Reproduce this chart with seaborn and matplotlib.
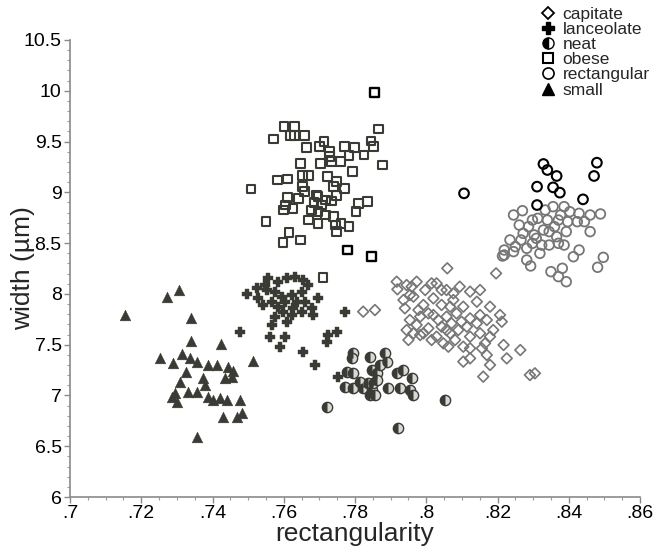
import numpy as np
import matplotlib
matplotlib.use("Agg")
import matplotlib.pyplot as plt
from matplotlib.markers import MarkerStyle
from matplotlib.lines import Line2D
from matplotlib.ticker import FixedLocator, MultipleLocator
import seaborn as sns

# ---------------- data ----------------
capitate_x = [0.8059, 0.8196, 0.7856, 0.7917, 0.7919, 0.7945, 0.7973, 0.8029, 0.8057, 0.8094,
              0.8123, 0.8151, 0.8142, 0.7936, 0.7964, 0.7992, 0.8020, 0.8043, 0.8076, 0.8104,
              0.8179, 0.7940, 0.7954, 0.7983, 0.8020, 0.8057, 0.8085, 0.8123, 0.8151, 0.8170,
              0.8207, 0.8212, 0.7945, 0.7950, 0.7983, 0.8006, 0.8029, 0.8048, 0.8067, 0.8090,
              0.8114, 0.8123, 0.8151, 0.8179, 0.8188, 0.8217, 0.8264, 0.8123, 0.8156, 0.8170,
              0.8104, 0.8123, 0.8179, 0.8226, 0.8160, 0.8291, 0.8305, 0.8062, 0.8043, 0.8067,
              0.7973, 0.7992, 0.7823,
              0.7959, 0.7997, 0.8015, 0.8043, 0.7978, 0.8006, 0.8034, 0.8071, 0.8099, 0.8057,
              0.8081, 0.8104, 0.8015, 0.7964, 0.8142, 0.8165, 0.8076, 0.7954]
capitate_y = [8.252, 8.202, 7.841, 8.120, 8.045, 8.087, 8.120, 8.104, 8.038, 8.071,
              8.022, 8.038, 7.923, 7.940, 7.973, 7.891, 7.956, 7.891, 7.940, 7.874,
              7.874, 7.858, 7.743, 7.776, 7.792, 7.776, 7.808, 7.759, 7.792, 7.743,
              7.792, 7.726, 7.644, 7.546, 7.595, 7.661, 7.579, 7.513, 7.612, 7.644,
              7.677, 7.579, 7.612, 7.579, 7.644, 7.497, 7.447, 7.464, 7.464, 7.398,
              7.333, 7.365, 7.300, 7.365, 7.185, 7.201, 7.218, 7.480, 7.677, 7.874,
              7.694, 7.612, 7.825,
              8.071, 8.038, 8.104, 8.038, 7.841, 7.808, 7.743, 7.710, 7.726, 7.644,
              7.546, 7.480, 7.546, 7.612, 7.710, 7.513, 8.005, 7.989]

lanceolate_x = [0.7496, 0.7529, 0.7557, 0.7585, 0.7608, 0.7632, 0.7655, 0.7552, 0.7576, 0.7541,
                0.7566, 0.7585, 0.7604, 0.7622, 0.7650, 0.7660, 0.7678, 0.7697, 0.7683, 0.7650,
                0.7622, 0.7608, 0.7576, 0.7566, 0.7627, 0.7599, 0.7548, 0.7524, 0.7477, 0.7561,
                0.7604, 0.7590, 0.7655, 0.7688, 0.7720, 0.7749, 0.7725, 0.7772, 0.7753, 0.7594,
                0.7636, 0.7669]
lanceolate_y = [8.000, 7.956, 8.153, 8.120, 8.153, 8.170, 8.137, 8.038, 8.022, 7.891,
                7.923, 7.874, 7.923, 7.989, 8.022, 7.923, 7.858, 7.956, 7.792, 7.825,
                7.792, 7.727, 7.776, 7.694, 7.858, 7.825, 8.087, 8.055, 7.628, 7.579,
                7.579, 7.480, 7.424, 7.300, 7.530, 7.628, 7.595, 7.825, 7.185, 7.973,
                7.923, 8.087]

neat_x = [0.7795, 0.7791, 0.7842, 0.7884, 0.7889, 0.7777, 0.7795, 0.7847, 0.7861, 0.7917,
          0.7936, 0.7959, 0.7772, 0.7795, 0.7823, 0.7847, 0.7851, 0.7894, 0.7926, 0.7954,
          0.7964, 0.7842, 0.7720, 0.7922, 0.8054, 0.7861, 0.7837, 0.7870, 0.7814, 0.7856]
neat_y = [7.415, 7.365, 7.382, 7.415, 7.333, 7.234, 7.218, 7.251, 7.218, 7.218,
          7.251, 7.168, 7.086, 7.070, 7.070, 7.054, 7.119, 7.070, 7.070, 7.054,
          7.004, 7.004, 6.883, 6.676, 6.955, 7.152, 7.119, 7.300, 7.136, 7.004]

obese_x = [0.7601, 0.7630, 0.7571, 0.7618, 0.7631, 0.7658, 0.7866, 0.7664, 0.7713, 0.7701,
           0.7729, 0.7771, 0.7799, 0.7845, 0.7852, 0.7825, 0.7783, 0.7729, 0.7704, 0.7733,
           0.7759, 0.7648, 0.7877, 0.7793, 0.7583, 0.7610, 0.7653, 0.7669, 0.7723, 0.7749,
           0.7739, 0.7771, 0.7508, 0.7653, 0.7658, 0.7610, 0.7642, 0.7696, 0.7717, 0.7685,
           0.7604, 0.7626, 0.7599, 0.7677, 0.7696, 0.7749, 0.7809, 0.7836, 0.7803, 0.7550,
           0.7669, 0.7696, 0.7739, 0.7745, 0.7783, 0.7749, 0.7615, 0.7598, 0.7648, 0.7691,
           0.7707, 0.7733, 0.7717, 0.7761, 0.7710]
obese_y = [9.646, 9.646, 9.525, 9.558, 9.558, 9.558, 9.623, 9.443, 9.498, 9.449,
           9.400, 9.449, 9.443, 9.505, 9.449, 9.367, 9.361, 9.351, 9.285, 9.302,
           9.302, 9.285, 9.269, 9.203, 9.121, 9.131, 9.164, 9.164, 9.154, 9.105,
           9.055, 9.039, 9.032, 9.055, 9.006, 8.947, 8.941, 8.957, 8.924, 8.901,
           8.875, 8.842, 8.826, 8.826, 8.809, 8.967, 8.891, 8.908, 8.809, 8.711,
           8.727, 8.694, 8.760, 8.678, 8.662, 8.612, 8.606, 8.507, 8.530, 8.973,
           8.875, 8.914, 8.777, 8.694, 8.159]
obese_out_x = [0.7780, 0.7847, 0.7854]
obese_out_y = [8.432, 8.366, 9.980]

rect_x = [0.8245, 0.8270, 0.8298, 0.8313, 0.8340, 0.8371, 0.8356, 0.8387, 0.8403, 0.8429,
          0.8460, 0.8489, 0.8397, 0.8424, 0.8272, 0.8303, 0.8345, 0.8366, 0.8393, 0.8460,
          0.8235, 0.8250, 0.8282, 0.8298, 0.8324, 0.8345, 0.8371, 0.8387, 0.8214, 0.8245,
          0.8282, 0.8293, 0.8319, 0.8429, 0.8413, 0.8497, 0.8481, 0.8350, 0.8382, 0.8393,
          0.8371, 0.8219,
          0.8261, 0.8287, 0.8329, 0.8360, 0.8377, 0.8334, 0.8266, 0.8309, 0.8444, 0.8219]
rect_y = [8.777, 8.819, 8.727, 8.744, 8.727, 8.727, 8.859, 8.859, 8.809, 8.793,
          8.777, 8.787, 8.711, 8.711, 8.596, 8.580, 8.613, 8.563, 8.613, 8.613,
          8.531, 8.465, 8.449, 8.498, 8.481, 8.481, 8.498, 8.481, 8.373, 8.416,
          8.334, 8.275, 8.399, 8.432, 8.366, 8.360, 8.262, 8.219, 8.252, 8.120,
          8.170, 8.383,
          8.678, 8.662, 8.629, 8.662, 8.777, 8.826, 8.531, 8.547, 8.711, 8.432]
rect_out_x = [0.8106, 0.8329, 0.8340, 0.8366, 0.8311, 0.8356, 0.8375, 0.8311, 0.8440, 0.8479, 0.8471]
rect_out_y = [8.990, 9.279, 9.220, 9.161, 9.056, 9.049, 8.997, 8.875, 8.931, 9.292, 9.161]

small_x = [0.7154, 0.7271, 0.7306, 0.7340, 0.7340, 0.7424, 0.7514, 0.7253, 0.7290, 0.7315,
           0.7337, 0.7356, 0.7327, 0.7388, 0.7412, 0.7444, 0.7454, 0.7435, 0.7374, 0.7379,
           0.7309, 0.7295, 0.7285, 0.7332, 0.7356, 0.7388, 0.7402, 0.7421, 0.7440, 0.7477,
           0.7430, 0.7468, 0.7482, 0.7356, 0.7458, 0.7299]
small_y = [7.792, 7.973, 8.038, 7.766, 7.536, 7.503, 7.339, 7.365, 7.316, 7.405,
           7.365, 7.332, 7.234, 7.300, 7.300, 7.283, 7.185, 7.169, 7.169, 7.103,
           7.136, 7.021, 6.988, 7.037, 7.037, 6.988, 6.955, 6.972, 6.955, 6.955,
           6.791, 6.791, 6.824, 6.594, 7.241, 6.939]

legend_labels = ["capitate", "lanceolate", "neat", "obese", "rectangular", "small"]
x_ticks = [0.70, 0.72, 0.74, 0.76, 0.78, 0.80, 0.82, 0.84, 0.86]
x_tick_labels = [".7", ".72", ".74", ".76", ".78", ".8", ".82", ".84", ".86"]
y_ticks = [6, 6.5, 7, 7.5, 8, 8.5, 9, 9.5, 10, 10.5]
y_tick_labels = ["6", "6.5", "7", "7.5", "8", "8.5", "9", "9.5", "10", "10.5"]

# ---------------- style ----------------
sns.set_style("white")
plt.rcParams["font.family"] = ["Liberation Sans", "DejaVu Sans"]

DARK = "#3b3b36"
GREY = "#767676"
BLACK = "#000000"

fig = plt.figure(figsize=(6.62, 5.49), dpi=100)
ax = fig.add_axes([70 / 662, 52 / 549, 570 / 662, 457 / 549])

# capitate (hollow grey diamonds)
sns.scatterplot(x=capitate_x, y=capitate_y, marker="D", s=30, facecolor="none",
                edgecolor=GREY, linewidth=1.2, ax=ax, zorder=3)
# rectangular (hollow grey circles)
sns.scatterplot(x=rect_x, y=rect_y, marker="o", s=48, facecolor="none",
                edgecolor=GREY, linewidth=1.3, ax=ax, zorder=3)
sns.scatterplot(x=rect_out_x, y=rect_out_y, marker="o", s=48, facecolor="none",
                edgecolor=BLACK, linewidth=1.5, ax=ax, zorder=3)
# obese (hollow squares)
sns.scatterplot(x=obese_x, y=obese_y, marker="s", s=40, facecolor="none",
                edgecolor=DARK, linewidth=1.5, ax=ax, zorder=3)
sns.scatterplot(x=obese_out_x, y=obese_out_y, marker="s", s=40, facecolor="none",
                edgecolor=BLACK, linewidth=1.7, ax=ax, zorder=3)
# lanceolate (filled plus)
sns.scatterplot(x=lanceolate_x, y=lanceolate_y, marker="P", s=60, color=DARK,
                edgecolor=DARK, linewidth=0.3, ax=ax, zorder=3)
# small (filled triangles)
sns.scatterplot(x=small_x, y=small_y, marker="^", s=60, color=DARK,
                edgecolor=DARK, linewidth=0.3, ax=ax, zorder=3)
# neat (half-filled circles)
sns.scatterplot(x=neat_x, y=neat_y, marker="o", s=55, facecolor="#d8d8d4",
                edgecolor=DARK, linewidth=1.0, ax=ax, zorder=4)
sns.scatterplot(x=neat_x, y=neat_y, marker=MarkerStyle("o", fillstyle="left"), s=55,
                color=DARK, edgecolor=DARK, linewidth=0, ax=ax, zorder=5)

# axes
ax.set_xlim(0.70, 0.86)
ax.set_ylim(6, 10.5)
ax.xaxis.set_major_locator(FixedLocator(x_ticks))
ax.set_xticklabels(x_tick_labels)
ax.yaxis.set_major_locator(FixedLocator(y_ticks))
ax.set_yticklabels(y_tick_labels)
ax.xaxis.set_minor_locator(MultipleLocator(0.005))
ax.yaxis.set_minor_locator(MultipleLocator(0.1))
ax.tick_params(axis="both", which="major", direction="out", length=4, width=1,
               color="#8a8a8a", labelsize=14, pad=2, labelcolor="black")
ax.tick_params(axis="both", which="minor", direction="out", length=2, width=0.8,
               color="#9a9a9a")
ax.tick_params(axis="x", which="both", bottom=True)
ax.tick_params(axis="y", which="both", left=True)
for side in ["top", "right"]:
    ax.spines[side].set_visible(False)
for side in ["left", "bottom"]:
    ax.spines[side].set_color("#8a8a8a")
    ax.spines[side].set_linewidth(1.2)

ax.set_xlabel("rectangularity", fontsize=19, labelpad=0)
ax.set_ylabel("width (µm)", fontsize=19)
ax.yaxis.set_label_coords(-0.062, 0.5)

# legend
handles = [
    Line2D([], [], ls="none", marker="D", ms=6.5, mfc="none", mec=BLACK, mew=1.3),
    Line2D([], [], ls="none", marker="P", ms=9, mfc=BLACK, mec=BLACK),
    Line2D([], [], ls="none", marker="o", ms=8, fillstyle="left", mfc=BLACK,
           mfcalt="white", mec=BLACK, mew=1.0),
    Line2D([], [], ls="none", marker="s", ms=7, mfc="none", mec=BLACK, mew=1.5),
    Line2D([], [], ls="none", marker="o", ms=8, mfc="none", mec=BLACK, mew=1.2),
    Line2D([], [], ls="none", marker="^", ms=9, mfc=BLACK, mec=BLACK),
]
fig.legend(handles, legend_labels, loc="upper right", bbox_to_anchor=(1.0, 1.01),
           frameon=False, fontsize=12.5, labelspacing=0.0, handlelength=0.8,
           handletextpad=0.45, borderpad=0.2)

fig.savefig("out.png", dpi=100)
